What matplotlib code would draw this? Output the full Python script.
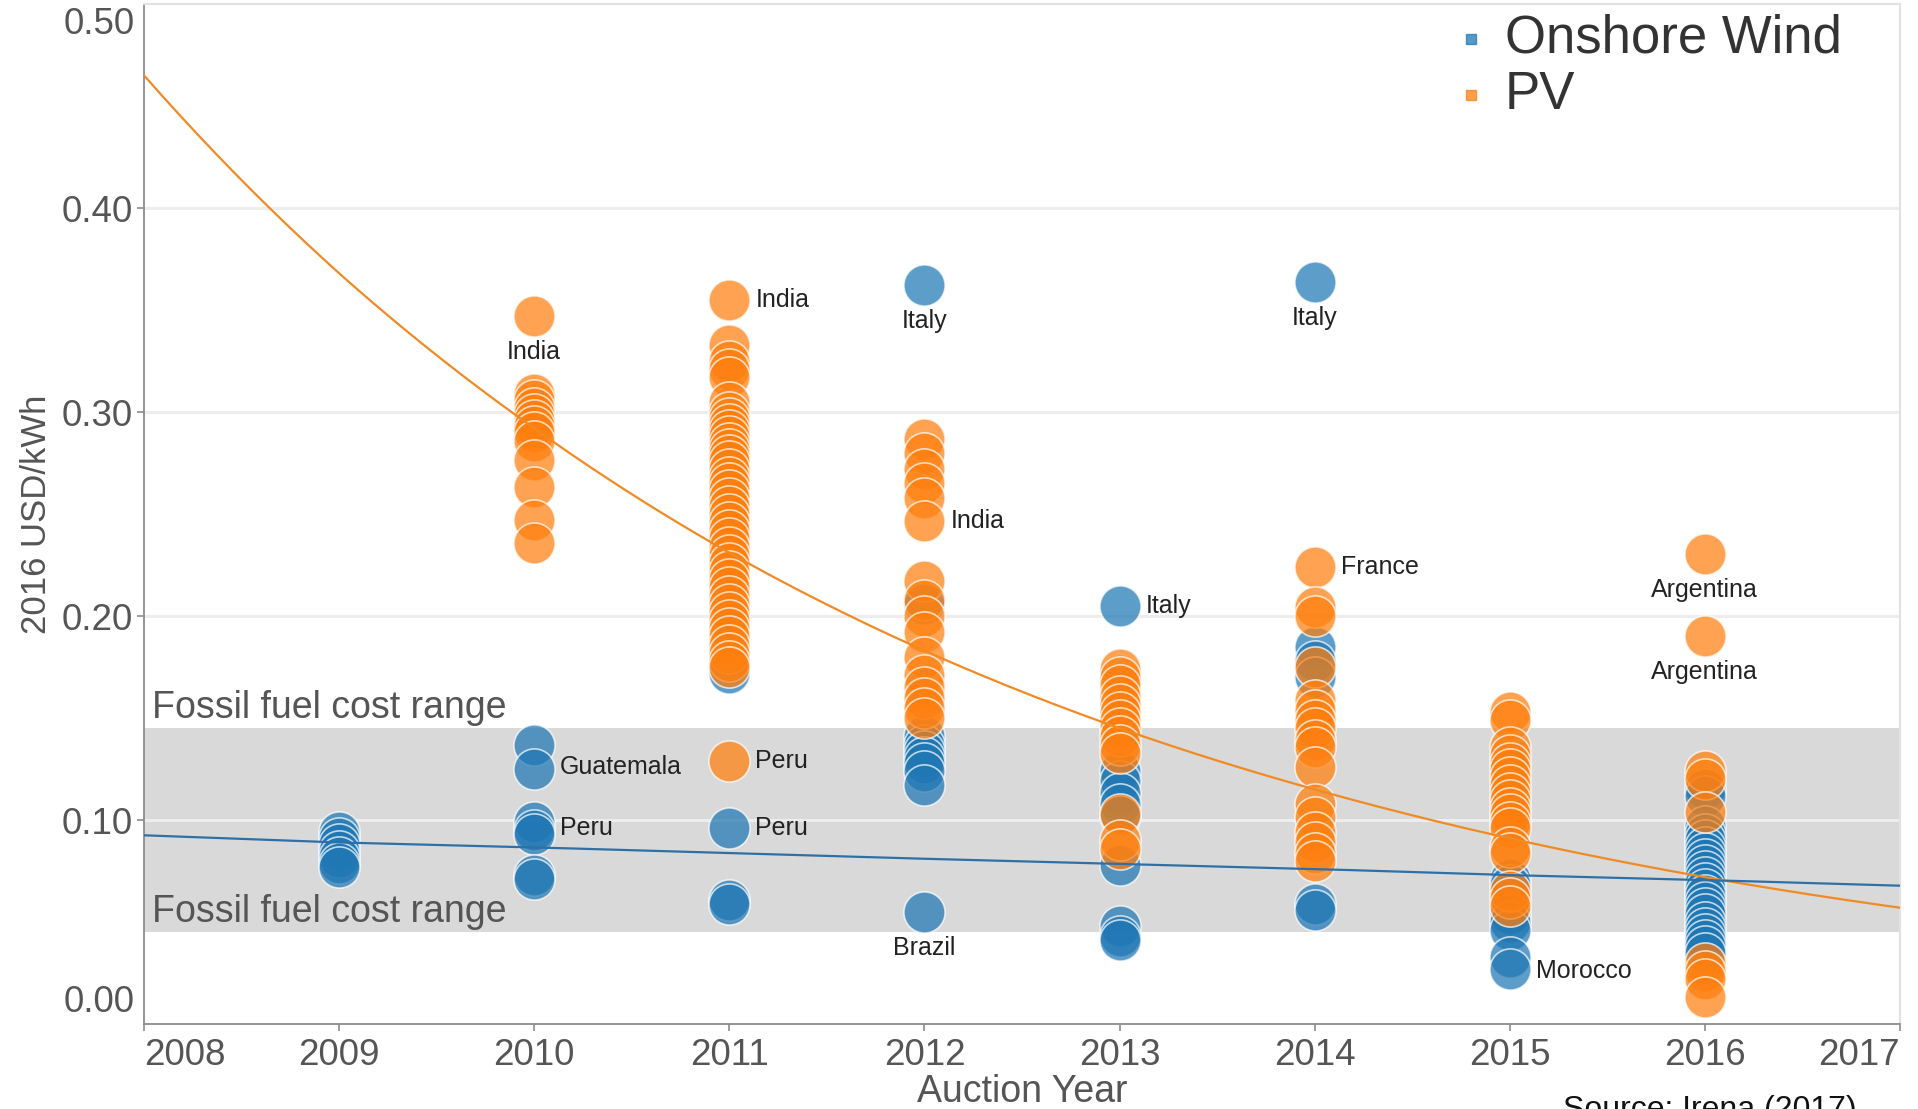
import numpy as np
import matplotlib
matplotlib.use("Agg")
import matplotlib.pyplot as plt
from matplotlib.lines import Line2D

plt.rcParams['font.family'] = ['Liberation Sans', 'DejaVu Sans']

# ---------------- data (2016 USD/kWh) ----------------
years = [2008, 2009, 2010, 2011, 2012, 2013, 2014, 2015, 2016, 2017]

wind_2009 = [0.094, 0.091, 0.088, 0.085, 0.082, 0.079, 0.077]
wind_2010 = [0.137, 0.125, 0.099, 0.095, 0.093, 0.073, 0.071]
wind_2011 = [0.172, 0.096, 0.061, 0.059]
wind_2012 = [0.3624, 0.206, 0.141, 0.137, 0.134, 0.131, 0.128, 0.124, 0.117, 0.055]
wind_2013 = [0.205, 0.124, 0.119, 0.113, 0.108, 0.102, 0.078, 0.048, 0.043, 0.041]
wind_2014 = [0.3636, 0.185, 0.178, 0.170, 0.059, 0.056]
wind_2015 = [0.071, 0.068, 0.054, 0.050, 0.046, 0.033, 0.027]
wind_2016 = [0.115, 0.112, 0.097, 0.093, 0.090, 0.087, 0.084, 0.081, 0.078, 0.075,
             0.072, 0.069, 0.066, 0.063, 0.060, 0.057, 0.054, 0.050, 0.047, 0.044,
             0.041, 0.038, 0.035]

pv_2010 = [0.347, 0.309, 0.306, 0.302, 0.299, 0.296, 0.293, 0.290, 0.286, 0.2765,
           0.263, 0.247, 0.236]
pv_2011 = [0.355, 0.333, 0.325, 0.321, 0.317, 0.305, 0.300, 0.297, 0.294, 0.291,
           0.288, 0.285, 0.282, 0.279, 0.276, 0.272, 0.268, 0.265, 0.262, 0.258,
           0.254, 0.250, 0.246, 0.242, 0.238, 0.234, 0.230, 0.226, 0.222, 0.218,
           0.214, 0.210, 0.206, 0.202, 0.198, 0.194, 0.190, 0.186, 0.182, 0.178,
           0.175, 0.129]
pv_2012 = [0.287, 0.280, 0.272, 0.265, 0.258, 0.2465, 0.217, 0.208, 0.200, 0.192,
           0.180, 0.171, 0.165, 0.160, 0.155, 0.150]
pv_2013 = [0.174, 0.170, 0.166, 0.161, 0.157, 0.153, 0.149, 0.145, 0.141, 0.137,
           0.133, 0.103, 0.090, 0.086]
pv_2014 = [0.224, 0.2045, 0.200, 0.175, 0.159, 0.154, 0.149, 0.145, 0.139, 0.136,
           0.126, 0.108, 0.1015, 0.094, 0.089, 0.084, 0.080]
pv_2015 = [0.153, 0.149, 0.136, 0.132, 0.128, 0.125, 0.121, 0.117, 0.113, 0.110,
           0.106, 0.103, 0.099, 0.096, 0.087, 0.084, 0.065, 0.062, 0.058]
pv_2016 = [0.2304, 0.190, 0.124, 0.120, 0.104, 0.030, 0.026, 0.022, 0.013]

wind_by_year = {2009: wind_2009, 2010: wind_2010, 2011: wind_2011, 2012: wind_2012,
                2013: wind_2013, 2014: wind_2014, 2015: wind_2015, 2016: wind_2016}
pv_by_year = {2010: pv_2010, 2011: pv_2011, 2012: pv_2012, 2013: pv_2013,
              2014: pv_2014, 2015: pv_2015, 2016: pv_2016}

# trend lines read at each year
pv_trend = [0.465, 0.368, 0.292, 0.231, 0.183, 0.145, 0.115, 0.091, 0.072, 0.057]
wind_trend = [0.0925, 0.0890, 0.0866, 0.0838, 0.0810, 0.0785, 0.0760, 0.0730, 0.0706, 0.0678]

fossil_low, fossil_high = 0.045, 0.145

label_text = ["India", "India", "Italy", "Italy", "India", "Italy", "France",
              "Argentina", "Argentina", "Guatemala", "Peru", "Peru", "Peru",
              "Brazil", "Morocco"]
label_year = [2010, 2011, 2012, 2014, 2012, 2013, 2014, 2016, 2016, 2010, 2010,
              2011, 2011, 2012, 2015]
label_value = [0.347, 0.355, 0.3624, 0.3636, 0.2465, 0.205, 0.224, 0.2304, 0.190,
               0.126, 0.096, 0.129, 0.096, 0.055, 0.026]
label_side = ["below", "right", "below", "below", "right", "right", "right",
              "below", "below", "right", "right", "right", "right", "below", "right"]

y_ticks = [0.1, 0.2, 0.3, 0.4]

# ---------------- figure ----------------
W, H = 1918, 1109
fig = plt.figure(figsize=(W / 100, H / 100), dpi=100)
ax = fig.add_axes([144 / W, 1 - 1024 / H, 1756 / W, 1020 / H])
ax.set_xlim(2008, 2017)
ax.set_ylim(0, 0.5)

BLUE = '#1f77b4'
ORANGE = '#ff7f0e'

ax.axhspan(fossil_low, fossil_high, color='#d9d9d9', lw=0, zorder=0.5)
for v in y_ticks:
    ax.axhline(v, color='#ededed', lw=2.2, zorder=0.8)

for yr, vals in wind_by_year.items():
    ax.scatter([yr] * len(vals), vals, s=880, c=BLUE, alpha=0.72,
               edgecolors='white', linewidths=1.2, zorder=2)
for yr, vals in pv_by_year.items():
    ax.scatter([yr] * len(vals), vals, s=880, c=ORANGE, alpha=0.72,
               edgecolors='white', linewidths=1.2, zorder=2)

# trend lines (smooth through the read values)
xf = np.linspace(years[0], years[-1], 300)
ax.plot(xf, np.exp(np.interp(xf, years, np.log(pv_trend))), color='#f08a24',
        lw=1.6, zorder=3)
ax.plot(xf, np.exp(np.interp(xf, years, np.log(wind_trend))), color='#2f6fa8',
        lw=1.6, zorder=3)

# fossil labels
ax.text(2008.04, 0.155, "Fossil fuel cost range", fontsize=27, color='#555555',
        ha='left', va='center', zorder=4)
ax.text(2008.04, 0.055, "Fossil fuel cost range", fontsize=27, color='#555555',
        ha='left', va='center', zorder=4)

# country labels
for t, yr, v, side in zip(label_text, label_year, label_value, label_side):
    if side == "below":
        ax.annotate(t, xy=(yr, v), xytext=(0, -36), textcoords='offset pixels',
                    ha='center', va='center', fontsize=18, color='#222222', zorder=4)
    else:
        ax.annotate(t, xy=(yr, v), xytext=(26, 0), textcoords='offset pixels',
                    ha='left', va='center', fontsize=18, color='#222222', zorder=4)

# axes styling
for s in ['left', 'bottom']:
    ax.spines[s].set_color('#8c8c8c')
    ax.spines[s].set_linewidth(1.3)
for s in ['top', 'right']:
    ax.spines[s].set_color('#e2e2e2')
    ax.spines[s].set_linewidth(1.5)

ax.set_xticks(years)
ax.set_xticklabels([str(y) for y in years])
xl = ax.get_xticklabels()
xl[0].set_ha('left')
xl[-1].set_ha('right')
ax.set_yticks(y_ticks)
ax.set_yticklabels([f"{v:.2f}" for v in y_ticks])
ax.tick_params(axis='x', colors='#8c8c8c', labelcolor='#555555', labelsize=26.5,
               length=5, width=1.2, pad=5)
ax.tick_params(axis='y', colors='#8c8c8c', labelcolor='#555555', labelsize=26.5,
               length=5, width=1.2, pad=3.2)

ax.annotate("0.50", xy=(0, 0.5), xycoords=('axes fraction', 'data'),
            xytext=(-9.5, -20.5), textcoords='offset pixels', ha='right', va='center',
            fontsize=26.5, color='#555555')
ax.annotate("0.00", xy=(0, 0.0), xycoords=('axes fraction', 'data'),
            xytext=(-9.5, 21), textcoords='offset pixels', ha='right', va='center',
            fontsize=26.5, color='#555555')

fig.text(1022 / W, 1 - 1092 / H, "Auction Year", fontsize=27, color='#555555',
         ha='center', va='center')
fig.text(37 / W, 1 - 514 / H, "2016 USD/kWh", fontsize=25, color='#555555',
         ha='center', va='center', rotation=90)

# legend
ax.plot([0.7557], [0.9657], marker='s', ms=7, color=BLUE, alpha=0.75,
        transform=ax.transAxes, clip_on=False, zorder=5)
ax.plot([0.7557], [0.9108], marker='s', ms=7, color=ORANGE, alpha=0.75,
        transform=ax.transAxes, clip_on=False, zorder=5)
ax.text(0.7748, 0.9657, "Onshore Wind", transform=ax.transAxes, fontsize=38,
        color='#333333', ha='left', va='center', zorder=5)
ax.text(0.7748, 0.9108, "PV", transform=ax.transAxes, fontsize=38,
        color='#333333', ha='left', va='center', zorder=5)

fig.text(1563 / W, 1 - 1095 / H, "Source: Irena (2017)", fontsize=23, color='#111111',
         ha='left', va='top')

fig.savefig("out.png", dpi=100, facecolor='white')
